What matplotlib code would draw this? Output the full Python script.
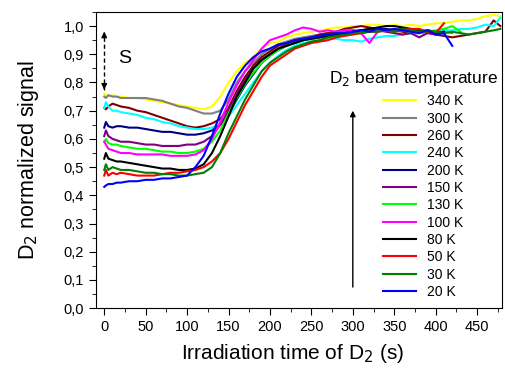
import numpy as np
import matplotlib.pyplot as plt
from matplotlib.ticker import MultipleLocator, FuncFormatter

nan = np.nan

# irradiation time grid (s)
t = [0, 2, 5, 10, 15, 20, 30, 40, 50, 60, 70, 80, 90, 100, 110, 120, 130, 140,
     150, 160, 170, 180, 190, 200, 210, 220, 230, 240, 250, 260, 270, 280, 290,
     300, 310, 320, 330, 340, 350, 360, 370, 380, 390, 400, 410, 420, 430, 440,
     450, 460, 470, 478]

labels = ["340 K", "300 K", "260 K", "240 K", "200 K", "150 K",
          "130 K", "100 K", "80 K", "50 K", "30 K", "20 K"]
colors = ["#ffff00", "#808080", "#800000", "#00ffff", "#000080", "#800080",
          "#00ff00", "#ff00ff", "#000000", "#ff0000", "#008000", "#0000ff"]

s340 = [0.76, 0.755, 0.75, 0.755, 0.75, 0.75, 0.745, 0.745, 0.74, 0.735, 0.73, 0.725, 0.72, 0.715,
        0.71, 0.705, 0.715, 0.75, 0.80, 0.84, 0.87, 0.89, 0.92, 0.94, 0.945, 0.96, 0.97, 0.975,
        0.98, 0.985, 0.99, 0.995, 0.995, 1.0, 1.0, 1.005, 1.005, 1.0, 1.005, 1.0, 1.005, 1.0,
        1.005, 1.01, 1.01, 1.015, 1.02, 1.02, 1.025, 1.035, 1.04, 1.035]
s300 = [0.75, 0.745, 0.755, 0.75, 0.75, 0.745, 0.745, 0.745, 0.745, 0.74, 0.735, 0.725, 0.715, 0.71,
        0.70, 0.69, 0.69, 0.70, 0.74, 0.80, 0.84, 0.87, 0.90, 0.92, 0.935, 0.945, 0.955, 0.96,
        0.965, 0.97, 0.975, 0.98, 0.98, 0.985, 0.985, 0.99, 0.99, 0.985, 0.99, 0.985, 0.98, 0.985,
        0.98, 0.975, 0.98, 0.975, nan, nan, nan, nan, nan, nan]
s260 = [0.71, 0.705, 0.715, 0.725, 0.72, 0.715, 0.71, 0.70, 0.695, 0.685, 0.675, 0.665, 0.655, 0.645,
        0.64, 0.645, 0.655, 0.67, 0.71, 0.77, 0.82, 0.86, 0.89, 0.91, 0.93, 0.94, 0.95, 0.955,
        0.96, 0.97, 0.975, 0.98, 0.99, 0.995, 1.0, 0.995, 0.99, 0.985, 0.985, 0.98, 0.975, 0.975,
        0.98, 0.97, 0.965, 0.96, 0.965, 0.97, 0.975, 0.98, 1.02, 1.0]
s240 = [0.71, 0.73, 0.715, 0.70, 0.70, 0.695, 0.69, 0.685, 0.675, 0.67, 0.66, 0.655, 0.645, 0.64,
        0.635, 0.635, 0.64, 0.65, 0.68, 0.72, 0.76, 0.80, 0.84, 0.87, 0.895, 0.915, 0.93, 0.94,
        0.945, 0.95, 0.955, 0.955, 0.95, 0.95, 0.945, 0.955, 0.96, 0.965, 0.965, 0.97, 0.975, 0.975,
        0.98, 0.98, 0.985, 0.985, 0.99, 0.99, 0.995, 1.005, 1.0, 1.03]
s200 = [0.64, 0.66, 0.645, 0.64, 0.645, 0.645, 0.64, 0.64, 0.635, 0.63, 0.625, 0.625, 0.62, 0.615,
        0.615, 0.62, 0.63, 0.65, 0.69, 0.74, 0.79, 0.83, 0.87, 0.895, 0.915, 0.93, 0.94, 0.95,
        0.955, 0.96, 0.965, 0.97, 0.975, 0.98, 0.985, 0.985, 0.99, 0.99, 0.985, 0.99, 0.985, 0.98,
        0.985, 0.98, 0.975, nan, nan, nan, nan, nan, nan, nan]
s150 = [0.61, 0.63, 0.61, 0.60, 0.595, 0.59, 0.59, 0.585, 0.58, 0.58, 0.575, 0.575, 0.575, 0.58,
        0.58, 0.59, 0.61, 0.65, 0.70, 0.76, 0.81, 0.85, 0.88, 0.90, 0.92, 0.935, 0.945, 0.95,
        0.96, 0.965, 0.97, 0.975, 0.975, 0.98, 0.98, 0.985, 0.985, 0.98, 0.975, 0.97, 0.975, 0.96,
        0.975, 0.97, nan, nan, nan, nan, nan, nan, nan, nan]
s130 = [0.59, 0.60, 0.585, 0.58, 0.58, 0.575, 0.57, 0.565, 0.565, 0.56, 0.555, 0.555, 0.55, 0.55,
        0.555, 0.565, 0.59, 0.63, 0.69, 0.745, 0.795, 0.835, 0.87, 0.895, 0.915, 0.93, 0.94, 0.95,
        0.955, 0.96, 0.965, 0.97, 0.975, 0.975, 0.98, 0.98, 0.985, 0.985, 0.98, 0.985, 0.98, 0.975,
        0.98, 0.985, 0.99, 1.0, 0.98, nan, nan, nan, nan, nan]
s100 = [0.59, 0.58, 0.565, 0.56, 0.555, 0.55, 0.55, 0.545, 0.545, 0.545, 0.545, 0.54, 0.54, 0.54,
        0.545, 0.56, 0.60, 0.66, 0.73, 0.79, 0.84, 0.88, 0.92, 0.95, 0.96, 0.97, 0.985, 0.995,
        0.99, 0.98, 0.985, 0.98, 0.985, 0.985, 0.975, 0.94, 0.98, nan, nan, nan, nan, nan,
        nan, nan, nan, nan, nan, nan, nan, nan, nan, nan]
s80 = [0.53, 0.55, 0.53, 0.525, 0.52, 0.52, 0.515, 0.51, 0.505, 0.50, 0.495, 0.495, 0.49, 0.49,
       0.495, 0.51, 0.55, 0.61, 0.68, 0.75, 0.80, 0.85, 0.88, 0.90, 0.92, 0.93, 0.94, 0.95,
       0.955, 0.96, 0.965, 0.97, 0.975, 0.98, 0.985, 0.99, 0.995, 1.0, 1.0, 0.995, 0.99, 0.985,
       0.98, 0.975, 0.98, nan, nan, nan, nan, nan, nan, nan]
s50 = [0.47, 0.49, 0.47, 0.48, 0.475, 0.48, 0.475, 0.47, 0.47, 0.47, 0.475, 0.48, 0.48, 0.485,
       0.49, 0.50, 0.52, 0.55, 0.60, 0.66, 0.72, 0.77, 0.82, 0.86, 0.88, 0.90, 0.92, 0.93,
       0.94, 0.945, 0.95, 0.96, 0.965, 0.97, 0.975, 0.98, 0.98, 0.985, 0.98, 0.985, 0.99, 0.99,
       0.98, 0.975, 1.01, nan, nan, nan, nan, nan, nan, nan]
s30 = [0.49, 0.51, 0.49, 0.50, 0.495, 0.49, 0.49, 0.485, 0.48, 0.48, 0.475, 0.475, 0.47, 0.47,
       0.475, 0.48, 0.50, 0.55, 0.62, 0.68, 0.74, 0.79, 0.84, 0.87, 0.89, 0.91, 0.925, 0.935,
       0.945, 0.95, 0.96, 0.965, 0.97, 0.975, 0.975, 0.98, 0.98, 0.985, 0.98, 0.99, 0.985, 0.98,
       0.985, 0.98, 0.975, 0.98, 0.975, 0.97, 0.975, 0.98, 0.985, 0.99]
s20 = [0.43, 0.435, 0.44, 0.44, 0.445, 0.445, 0.45, 0.45, 0.455, 0.455, 0.46, 0.46, 0.465, 0.47,
       0.50, 0.54, 0.61, 0.69, 0.76, 0.82, 0.86, 0.89, 0.91, 0.92, 0.935, 0.94, 0.95, 0.955,
       0.96, 0.965, 0.97, 0.975, 0.975, 0.98, 0.985, 0.98, 0.99, 0.985, 0.99, 0.985, 0.98, 0.975,
       0.985, 0.97, 0.975, 0.93, nan, nan, nan, nan, nan, nan]

series = [s340, s300, s260, s240, s200, s150, s130, s100, s80, s50, s30, s20]

plt.rcParams['font.family'] = ['Liberation Sans', 'DejaVu Sans']

fig = plt.figure(figsize=(5.05, 3.74), dpi=100)
ax = fig.add_axes([0.19, 0.176, 0.804, 0.792])

for y, c, lab in zip(series, colors, labels):
    ax.plot(t, y, color=c, lw=1.5, label=lab)

ax.set_xlim(-10, 480)
ax.set_ylim(0, 1.05)
ax.xaxis.set_major_locator(MultipleLocator(50))
ax.xaxis.set_minor_locator(MultipleLocator(25))
ax.yaxis.set_major_locator(MultipleLocator(0.1))
ax.yaxis.set_minor_locator(MultipleLocator(0.05))
ax.yaxis.set_major_formatter(FuncFormatter(lambda v, p: f"{v:.1f}".replace('.', ',')))
ax.tick_params(which='major', direction='out', length=5, labelsize=10.5)
ax.tick_params(which='minor', direction='out', length=3)

ax.set_xlabel("Irradiation time of D$_2$ (s)", fontsize=15)
ax.set_ylabel("D$_2$ normalized signal", fontsize=15.5)
ax.xaxis.set_label_coords(0.485, -0.115)
ax.yaxis.set_label_coords(-0.135, 0.5)

# temperature arrow
ax.annotate('', xy=(300, 0.71), xytext=(300, 0.065),
            arrowprops=dict(arrowstyle='-|>', color='black', lw=1, mutation_scale=8))
# dashed double arrow "S"
ax.plot([0, 0], [0.775, 0.975], color='black', lw=1, ls=(0, (3, 2)))
ax.annotate('', xy=(0, 0.99), xytext=(0, 0.96),
            arrowprops=dict(arrowstyle='-|>', color='black', lw=1, mutation_scale=8))
ax.annotate('', xy=(0, 0.765), xytext=(0, 0.795),
            arrowprops=dict(arrowstyle='-|>', color='black', lw=1, mutation_scale=8))
ax.text(17, 0.885, "S", fontsize=14, va='center')

ax.text(0.574, 0.76, "D$_2$ beam temperature", transform=ax.transAxes,
        fontsize=12.5, va='baseline', ha='left')
ax.legend(loc='upper left', bbox_to_anchor=(0.707, 0.722), frameon=False,
          fontsize=10, handlelength=2.4, handletextpad=0.75, labelspacing=0.24,
          borderpad=0, borderaxespad=0)

fig.savefig("out.png", dpi=100)
